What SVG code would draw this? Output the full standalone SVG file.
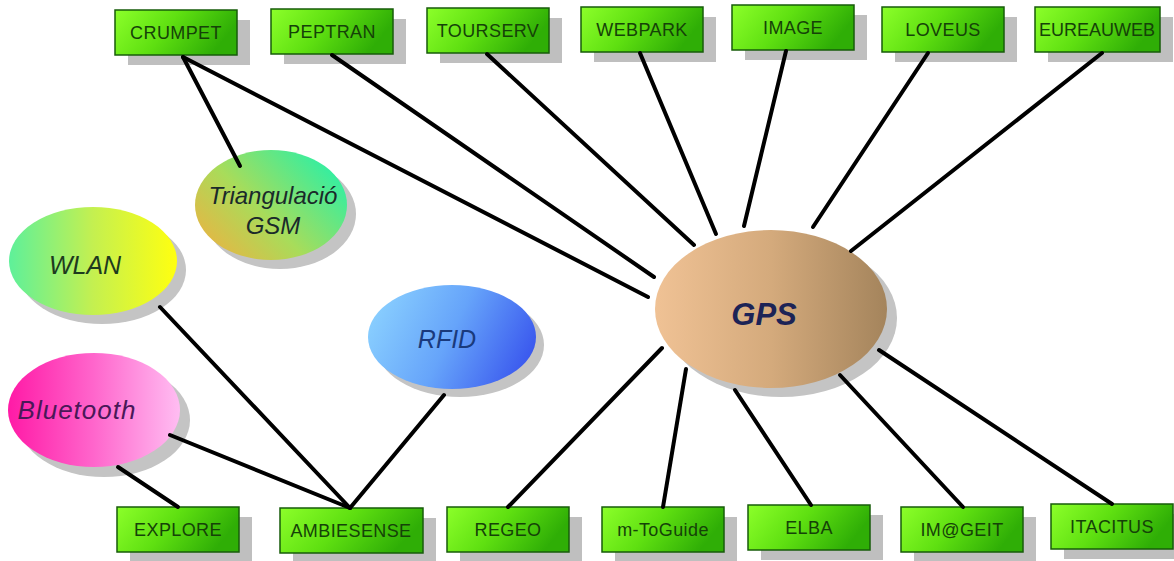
<svg xmlns="http://www.w3.org/2000/svg" width="1174" height="561" viewBox="0 0 1174 561">
<defs>
  <linearGradient id="gBox" x1="0" y1="0" x2="1" y2="0.3">
    <stop offset="0" stop-color="#8cff2a"/>
    <stop offset="0.5" stop-color="#5fe011"/>
    <stop offset="1" stop-color="#2fae06"/>
  </linearGradient>
  <linearGradient id="gWlan" x1="0" y1="0.5" x2="1" y2="0.5">
    <stop offset="0" stop-color="#5ef09a"/>
    <stop offset="0.5" stop-color="#c4f050"/>
    <stop offset="1" stop-color="#ffff10"/>
  </linearGradient>
  <linearGradient id="gTri" x1="0" y1="0.9" x2="1" y2="0.2">
    <stop offset="0" stop-color="#f0b040"/>
    <stop offset="0.45" stop-color="#a8dc5a"/>
    <stop offset="1" stop-color="#28f0a8"/>
  </linearGradient>
  <linearGradient id="gBlue" x1="0" y1="0.5" x2="1" y2="0.5">
    <stop offset="0" stop-color="#ff1aa6"/>
    <stop offset="0.5" stop-color="#ff66cc"/>
    <stop offset="1" stop-color="#ffbdf2"/>
  </linearGradient>
  <linearGradient id="gRfid" x1="0" y1="0.3" x2="1" y2="0.6">
    <stop offset="0" stop-color="#8ad0ff"/>
    <stop offset="0.5" stop-color="#66a4fa"/>
    <stop offset="1" stop-color="#3a58ee"/>
  </linearGradient>
  <linearGradient id="gGps" x1="0" y1="0.5" x2="1" y2="0.5">
    <stop offset="0" stop-color="#f0c295"/>
    <stop offset="0.5" stop-color="#d4aa7c"/>
    <stop offset="1" stop-color="#a4845c"/>
  </linearGradient>
  <style>
    .box { fill: url(#gBox); stroke: #175c0a; stroke-width: 1.5; }
    .bsh { fill: #bfbfbf; }
    .esh { fill: #c4c4c4; }
    .bt { font-family: "Liberation Sans", Arial, sans-serif; font-size: 18px; fill: #154208; text-anchor: middle; letter-spacing: 0.4px; }
    .et { font-family: "Liberation Sans", Arial, sans-serif; font-style: italic; font-size: 24px; text-anchor: middle; }
    .conn line { stroke: #000; stroke-width: 4; stroke-linecap: round; }
  </style>
</defs>
<rect width="1174" height="561" fill="#ffffff"/>

<!-- Ellipse nodes -->
<g id="n-tri">
  <ellipse class="esh" cx="280" cy="214" rx="76" ry="55"/>
  <ellipse cx="271" cy="205" rx="76" ry="55" fill="url(#gTri)"/>
  <text class="et" x="273" y="204" fill="#1a2a2a">Triangulació</text>
  <text class="et" x="273" y="234" fill="#1a2a2a">GSM</text>
</g>
<g id="n-wlan">
  <ellipse class="esh" cx="102" cy="270" rx="84" ry="54"/>
  <ellipse cx="93" cy="261" rx="84" ry="54" fill="url(#gWlan)"/>
  <text class="et" x="85" y="274" style="font-size:25px" fill="#1e3a1e">WLAN</text>
</g>
<g id="n-bluetooth">
  <ellipse class="esh" cx="104" cy="420" rx="86" ry="57"/>
  <ellipse cx="94" cy="410" rx="86" ry="57" fill="url(#gBlue)"/>
  <text class="et" x="77" y="419" style="font-size:26px;letter-spacing:1px" fill="#4a1858">Bluetooth</text>
</g>
<g id="n-rfid">
  <ellipse class="esh" cx="460" cy="345" rx="84" ry="52"/>
  <ellipse cx="452" cy="337" rx="84" ry="52" fill="url(#gRfid)"/>
  <text class="et" x="447" y="348" style="font-size:25px" fill="#1a3a7c">RFID</text>
</g>
<g id="n-gps">
  <ellipse class="esh" cx="781" cy="318" rx="116" ry="79"/>
  <ellipse cx="771" cy="309" rx="116" ry="79" fill="url(#gGps)"/>
  <text class="et" x="764" y="325" style="font-size:31px;font-weight:bold" fill="#1c2356">GPS</text>
</g>

<!-- Box nodes top -->
<g id="n-crumpet"><rect class="bsh" x="128" y="20" width="122" height="45"/><rect class="box" x="115" y="10" width="122" height="45"/><text class="bt" x="176" y="39">CRUMPET</text></g>
<g id="n-peptran"><rect class="bsh" x="284" y="19" width="122" height="45"/><rect class="box" x="271" y="9" width="122" height="45"/><text class="bt" x="332" y="38">PEPTRAN</text></g>
<g id="n-tourserv"><rect class="bsh" x="440" y="18" width="122" height="45"/><rect class="box" x="427" y="8" width="122" height="45"/><text class="bt" x="488" y="37">TOURSERV</text></g>
<g id="n-webpark"><rect class="bsh" x="594" y="17" width="122" height="45"/><rect class="box" x="581" y="7" width="122" height="45"/><text class="bt" x="642" y="36">WEBPARK</text></g>
<g id="n-image"><rect class="bsh" x="745" y="15" width="122" height="45"/><rect class="box" x="732" y="5" width="122" height="45"/><text class="bt" x="793" y="34">IMAGE</text></g>
<g id="n-loveus"><rect class="bsh" x="895" y="17" width="122" height="45"/><rect class="box" x="882" y="7" width="122" height="45"/><text class="bt" x="943" y="36">LOVEUS</text></g>
<g id="n-eureauweb"><rect class="bsh" x="1048" y="17" width="125" height="45"/><rect class="box" x="1035" y="7" width="125" height="45"/><text class="bt" x="1097" y="36" style="letter-spacing:0">EUREAUWEB</text></g>

<!-- Box nodes bottom -->
<g id="n-explore"><rect class="bsh" x="130" y="517" width="122" height="45"/><rect class="box" x="117" y="507" width="122" height="45"/><text class="bt" x="178" y="536">EXPLORE</text></g>
<g id="n-ambiesense"><rect class="bsh" x="293" y="518" width="143" height="45"/><rect class="box" x="280" y="508" width="143" height="45"/><text class="bt" x="351" y="537">AMBIESENSE</text></g>
<g id="n-regeo"><rect class="bsh" x="460" y="517" width="122" height="45"/><rect class="box" x="447" y="507" width="122" height="45"/><text class="bt" x="508" y="536">REGEO</text></g>
<g id="n-mtoguide"><rect class="bsh" x="615" y="517" width="122" height="45"/><rect class="box" x="602" y="507" width="122" height="45"/><text class="bt" x="663" y="536">m-ToGuide</text></g>
<g id="n-elba"><rect class="bsh" x="761" y="515" width="122" height="45"/><rect class="box" x="748" y="505" width="122" height="45"/><text class="bt" x="809" y="534">ELBA</text></g>
<g id="n-imageit"><rect class="bsh" x="914" y="517" width="122" height="45"/><rect class="box" x="901" y="507" width="122" height="45"/><text class="bt" x="962" y="536">IM@GEIT</text></g>
<g id="n-itacitus"><rect class="bsh" x="1064" y="514" width="122" height="45"/><rect class="box" x="1051" y="504" width="122" height="45"/><text class="bt" x="1112" y="533">ITACITUS</text></g>

<!-- Connectors -->
<g id="connectors" class="conn">
  <line x1="183" y1="57" x2="240" y2="166"/>
  <line x1="183" y1="57" x2="648" y2="297"/>
  <line x1="332" y1="55" x2="654" y2="277"/>
  <line x1="487" y1="54" x2="694" y2="245"/>
  <line x1="640" y1="53" x2="716" y2="234"/>
  <line x1="786" y1="51" x2="744" y2="226"/>
  <line x1="928" y1="53" x2="813" y2="227"/>
  <line x1="1102" y1="53" x2="851" y2="251"/>
  <line x1="662" y1="348" x2="508" y2="507"/>
  <line x1="686" y1="369" x2="663" y2="507"/>
  <line x1="735" y1="390" x2="811" y2="505"/>
  <line x1="840" y1="375" x2="963" y2="507"/>
  <line x1="879" y1="350" x2="1112" y2="504"/>
  <line x1="160" y1="307" x2="350" y2="508"/>
  <line x1="170" y1="435" x2="350" y2="508"/>
  <line x1="444" y1="395" x2="350" y2="508"/>
  <line x1="118" y1="467" x2="178" y2="507"/>
</g>
</svg>
